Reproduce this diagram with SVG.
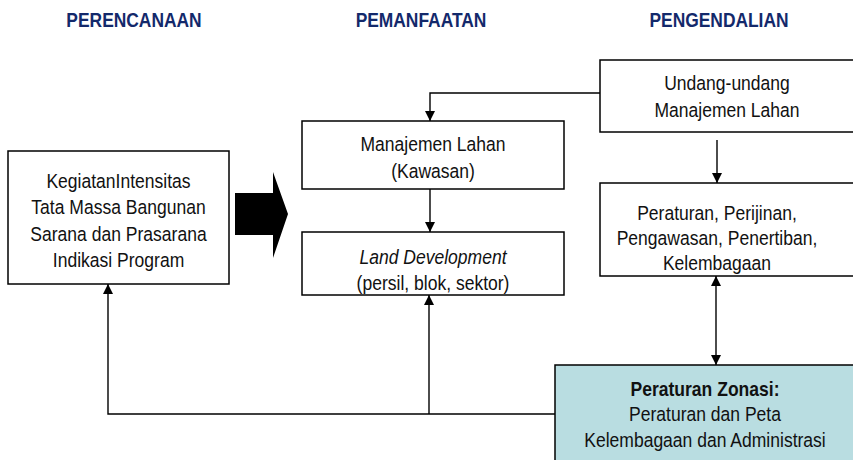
<svg xmlns="http://www.w3.org/2000/svg" width="853" height="460" viewBox="0 0 853 460">
  <style>
    .box { fill: #ffffff; stroke: #000000; stroke-width: 1.5; }
    .teal { fill: #b9dde1; stroke: #000000; stroke-width: 1.5; }
    .hdr { font-family: "Liberation Sans", Arial, sans-serif; font-size: 20px; font-weight: bold; fill: #13296b; text-anchor: middle; }
    .t { font-family: "Liberation Sans", Arial, sans-serif; font-size: 20.5px; fill: #111111; text-anchor: middle; }
    .it { font-style: italic; }
    .b { font-weight: bold; }
    .con { fill: none; stroke: #000000; stroke-width: 1.4; }
  </style>
  <defs>
    <marker id="ah" viewBox="0 0 10 10" refX="10" refY="5" markerWidth="10" markerHeight="10" markerUnits="userSpaceOnUse" orient="auto-start-reverse">
      <path d="M0,0 L10,5 L0,10 Z" fill="#000000"/>
    </marker>
  </defs>

  <!-- column headers -->
  <g id="headers">
    <g transform="translate(134,27) scale(0.87,1)"><text class="hdr" x="0" y="0">PERENCANAAN</text></g>
    <g transform="translate(421,27) scale(0.87,1)"><text class="hdr" x="0" y="0">PEMANFAATAN</text></g>
    <g transform="translate(719,27) scale(0.87,1)"><text class="hdr" x="0" y="0">PENGENDALIAN</text></g>
  </g>

  <!-- connectors -->
  <g id="connectors">
    <polyline class="con" points="600,93 430,93 430,121" marker-end="url(#ah)"/>
    <line class="con" x1="430" y1="189" x2="430" y2="232" marker-end="url(#ah)"/>
    <line class="con" x1="717" y1="140" x2="717" y2="183" marker-end="url(#ah)"/>
    <line class="con" x1="716" y1="276" x2="716" y2="365" marker-start="url(#ah)" marker-end="url(#ah)"/>
    <polyline class="con" points="555,414 108,414 108,284" marker-end="url(#ah)"/>
    <line class="con" x1="429" y1="414" x2="429" y2="295" marker-end="url(#ah)"/>
    <!-- block arrow from planning to utilisation -->
    <path d="M235,193 L273,193 L273,172 L288,214 L273,258 L273,235 L235,235 Z" fill="#000000"/>
  </g>

  <g id="perencanaan">
    <rect class="box" x="8" y="151" width="221" height="133"/>
    <g transform="translate(118.5,0) scale(0.855,1)">
      <text class="t" x="0" y="188">KegiatanIntensitas</text>
      <text class="t" x="0" y="214.5">Tata Massa Bangunan</text>
      <text class="t" x="0" y="241">Sarana dan Prasarana</text>
      <text class="t" x="0" y="267.5">Indikasi Program</text>
    </g>
  </g>

  <g id="manajemen-lahan">
    <rect class="box" x="302" y="121" width="262" height="68"/>
    <g transform="translate(433,0) scale(0.855,1)">
      <text class="t" x="0" y="151">Manajemen Lahan</text>
      <text class="t" x="0" y="178">(Kawasan)</text>
    </g>
  </g>

  <g id="land-development">
    <rect class="box" x="302" y="232" width="262" height="63"/>
    <g transform="translate(433,0) scale(0.855,1)">
      <text class="t it" x="0" y="264">Land Development</text>
      <text class="t" x="0" y="290">(persil, blok, sektor)</text>
    </g>
  </g>

  <g id="undang-undang">
    <rect class="box" x="600" y="60" width="262" height="72"/>
    <g transform="translate(727,0) scale(0.855,1)">
      <text class="t" x="0" y="90">Undang-undang</text>
      <text class="t" x="0" y="117">Manajemen Lahan</text>
    </g>
  </g>

  <g id="peraturan">
    <rect class="box" x="600" y="183" width="262" height="93"/>
    <g transform="translate(717,0) scale(0.855,1)">
      <text class="t" x="0" y="220">Peraturan, Perijinan,</text>
      <text class="t" x="0" y="245">Pengawasan, Penertiban,</text>
      <text class="t" x="0" y="270">Kelembagaan</text>
    </g>
  </g>

  <g id="peraturan-zonasi">
    <rect class="teal" x="555" y="365" width="310" height="105"/>
    <g transform="translate(705,0) scale(0.855,1)">
      <text class="t b" x="0" y="396">Peraturan Zonasi:</text>
      <text class="t" x="0" y="421">Peraturan dan Peta</text>
      <text class="t" x="0" y="447">Kelembagaan dan Administrasi</text>
    </g>
  </g>
</svg>
